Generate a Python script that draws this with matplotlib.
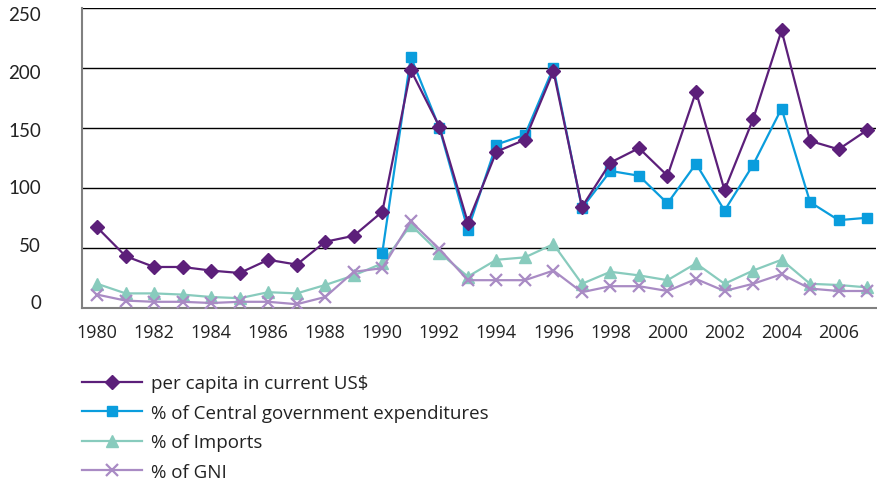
import numpy as np
import matplotlib
matplotlib.use('Agg')
import matplotlib.pyplot as plt
from matplotlib.transforms import blended_transform_factory

plt.rcParams['font.family'] = ['Open Sans', 'DejaVu Sans']

years = list(range(1980, 2008))

per_capita = [67, 43, 34, 34, 31, 29, 40, 36, 55, 60, 80, 198, 151, 71, 130,
              140, 197, 84, 121, 133, 110, 180, 98, 157, 231, 139, 132, 148]
central_gov = [None] * 10 + [46, 209, 150, 65, 136, 144, 200, 83, 114, 110,
                             87, 120, 81, 119, 166, 88, 73, 75]
imports = [20, 12, 12, 11, 9, 8, 13, 12, 19, 27, 37, 69, 46, 26, 40, 42, 53,
           20, 30, 27, 23, 37, 20, 31, 40, 20, 19, 17]
gni = [11, 6, 5, 5, 4, 5, 5, 3, 9, 30, 33, 72, 49, 23, 23, 23, 31, 13, 18,
       18, 14, 24, 14, 20, 28, 16, 14, 14]

labels = ['per capita in current US$', '% of Central government expenditures',
          '% of Imports', '% of GNI']
colors = ['#5c1f7a', '#0a9ddd', '#88cbbd', '#a98bc4']

y_ticks = [0, 50, 100, 150, 200, 250]
x_ticks = list(range(1980, 2007, 2))

fig = plt.figure(figsize=(8.77, 4.81), dpi=100)
ax = fig.add_axes([0.0935, 0.358, 0.905, 0.624])

cg = np.array([np.nan if v is None else v for v in central_gov], dtype=float)

ax.plot(years, imports, color=colors[2], lw=1.6, marker='^', ms=8.5,
        zorder=3, label=labels[2])
ax.plot(years, gni, color=colors[3], lw=1.6, marker='x', ms=8.5, mew=1.6,
        zorder=4, label=labels[3])
ax.plot(years, cg, color=colors[1], lw=1.6, marker='s', ms=7.5,
        zorder=5, label=labels[1])
ax.plot(years, per_capita, color=colors[0], lw=1.6, marker='D', ms=7.5,
        zorder=6, label=labels[0])

ax.set_xlim(1979.47, 2007.3)
ax.set_ylim(0, 250)
ax.set_yticks(y_ticks)
ax.set_yticklabels([])
ax.tick_params(axis='y', length=0)
ax.yaxis.grid(True, color='black', lw=1)
ax.set_axisbelow(True)

# y labels sit slightly off the gridlines in the original
trans = blended_transform_factory(fig.transFigure, ax.transData)
for v in y_ticks:
    ax.text(0.047, 4 + v * 0.96, str(v), transform=trans, ha='right',
            va='center', fontsize=13.5, color='#222222', family='Lato')

ax.set_xticks(x_ticks)
ax.set_xticklabels([str(x) for x in x_ticks], fontsize=13, color='#222222')
ax.tick_params(axis='x', length=0, pad=11)

for s in ['top', 'right']:
    ax.spines[s].set_visible(False)
for s in ['left', 'bottom']:
    ax.spines[s].set_color('#808080')
    ax.spines[s].set_linewidth(1.5)

handles, labs = ax.get_legend_handles_labels()
order = [3, 2, 0, 1]
leg = fig.legend([handles[i] for i in order], [labs[i] for i in order],
                 loc='upper left', bbox_to_anchor=(0.094, 0.22),
                 frameon=False, fontsize=13.5, handlelength=3.2,
                 handletextpad=0.45, labelspacing=0.62, borderaxespad=0,
                 borderpad=0)
for t in leg.get_texts():
    t.set_color('#222222')

fig.savefig('out.png', dpi=100)
